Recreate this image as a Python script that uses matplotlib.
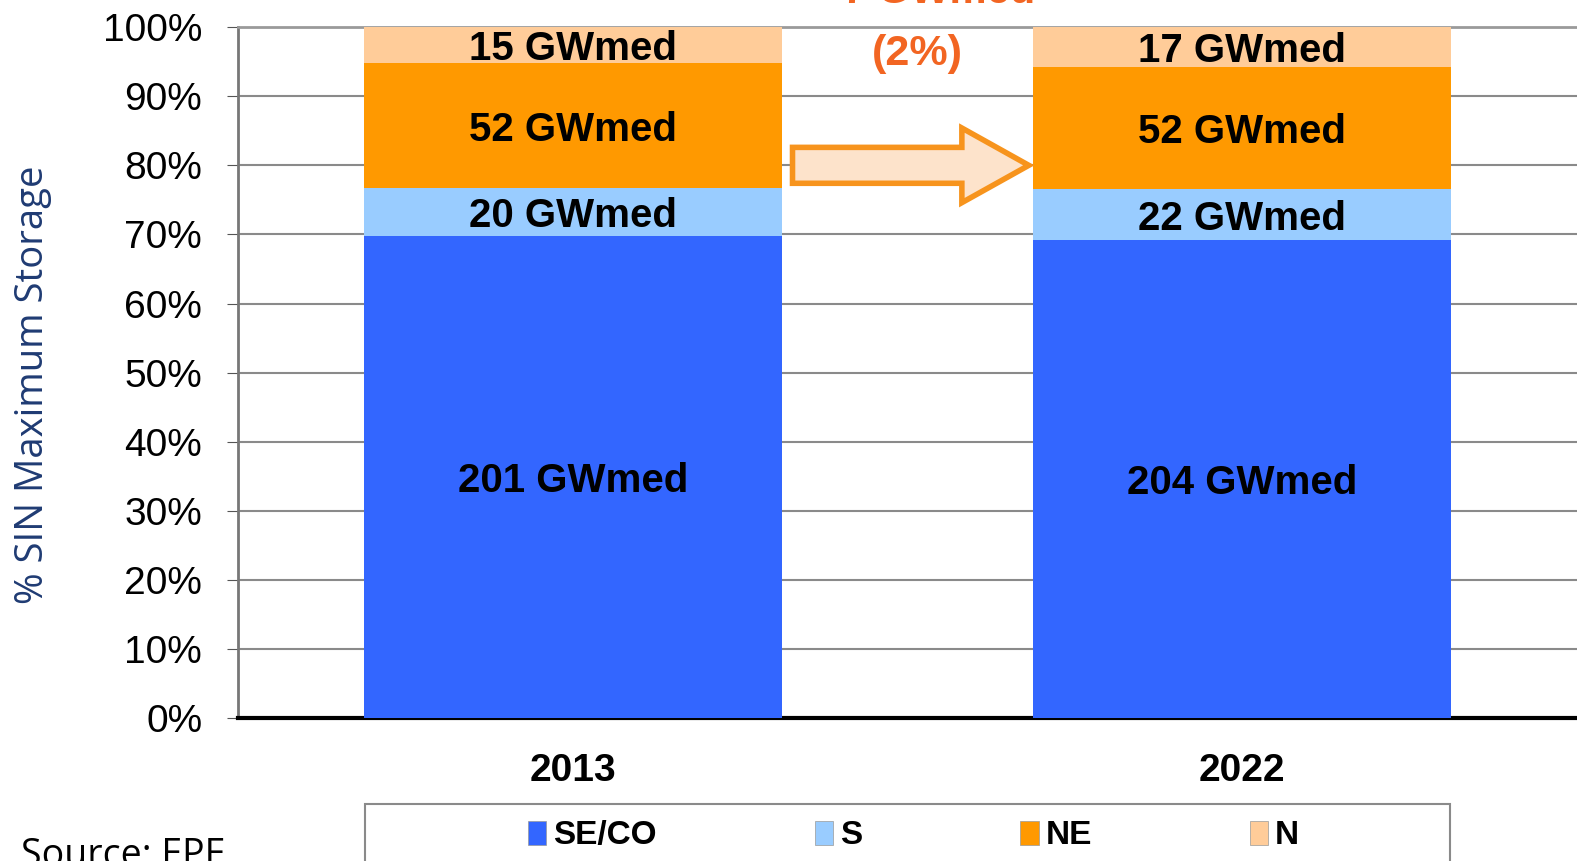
import numpy as np
import matplotlib.pyplot as plt
from matplotlib.patches import Patch, Rectangle

# -----------------------------
# Maximum storage by subsystem (GWmed)
# -----------------------------
years = ["2013", "2022"]
regions = ["SE/CO", "S", "NE", "N"]
se_co = [201, 204]
s = [20, 22]
ne = [52, 52]
n = [15, 17]
colors = ["#3366FF", "#99CCFF", "#FF9900", "#FFCC99"]

series = np.array([se_co, s, ne, n], dtype=float)
totals = series.sum(axis=0)
shares = series / totals * 100
growth = totals[1] - totals[0]
growth_pct = growth / totals[0] * 100

plt.rcParams['font.family'] = ['Liberation Sans', 'DejaVu Sans']

fig = plt.figure(figsize=(15.77, 8.61), dpi=100)
ax = fig.add_axes([0.1511, 0.1659, 0.8489, 0.8026])

x = np.arange(len(years))
bottom = np.zeros(len(years))
for i, reg in enumerate(regions):
    ax.bar(x, shares[i], 0.624, bottom=bottom, color=colors[i], label=reg, zorder=3)
    for j in range(len(years)):
        ax.text(x[j], bottom[j] + shares[i][j] / 2 - 0.6, f"{int(series[i][j])} GWmed",
                ha="center", va="center", fontsize=29, fontweight="bold", zorder=4)
    bottom += shares[i]

ax.set_xlim(-0.5, 1.5)
ax.set_ylim(0, 100)
ax.set_yticks(np.arange(0, 101, 10))
ax.set_yticklabels([f"{t}%" for t in range(0, 101, 10)], fontsize=28)
ax.set_xticks(x)
ax.set_xticklabels(years, fontsize=28, fontweight="bold")
ax.tick_params(axis="x", length=0, pad=25)
ax.tick_params(axis="y", length=8, color="#555555", pad=18)
ax.yaxis.grid(True, color="#8a8a8a", lw=1.5, zorder=0)
ax.set_axisbelow(True)

ax.spines["right"].set_visible(False)
ax.spines["top"].set_color("#9a9a9a")
ax.spines["top"].set_linewidth(2)
ax.spines["left"].set_color("#777777")
ax.spines["left"].set_linewidth(2)
ax.spines["bottom"].set_color("black")
ax.spines["bottom"].set_linewidth(3)

ax.set_ylabel("% SIN Maximum Storage", fontsize=27.5, color="#1f3b73",
              family=["Open Sans", "DejaVu Sans"], va="center")
ax.yaxis.set_label_coords(-0.153, 0.483)

# growth arrow between bars
ax.arrow(0.328, 80, 0.353, 0, width=5.2, head_width=10.8, head_length=0.1,
         length_includes_head=True, fc="#FDE3CB", ec="#F7941D", lw=4, zorder=5)
ax.text(0.515, 96.1, f"({growth_pct:.0f}%)", ha="center", va="center",
        fontsize=31, fontweight="bold", color="#F26522")
ax.text(0.52, 103.45, f"+ {growth:.0f} GWmed", ha="center", va="baseline",
        fontsize=30, fontweight="bold", color="#F26522", clip_on=False)

# legend box (frame drawn separately, it is wider than the entries)
fig.add_artist(Rectangle((363 / 1568, -0.05), (1442 - 363) / 1568, 0.05 + 1 - 799 / 856,
                         transform=fig.transFigure, fill=False,
                         edgecolor="#8a8a8a", lw=1.5))
handles = [Patch(facecolor=c, edgecolor="#999999", lw=0.5) for c in colors]
fig.legend(handles, regions, loc="center left", ncol=4,
           bbox_to_anchor=(525 / 1568, 1 - 831 / 856),
           prop={"size": 24, "weight": "bold"}, handlelength=0.55,
           handleheight=0.75, handletextpad=0.2, columnspacing=4.75,
           frameon=False, borderpad=0, borderaxespad=0)

fig.text(0.013, 0.028, "Source: EPE", fontsize=27, va="top",
         family=["Open Sans", "DejaVu Sans"])

fig.savefig("out.png", dpi=100)
